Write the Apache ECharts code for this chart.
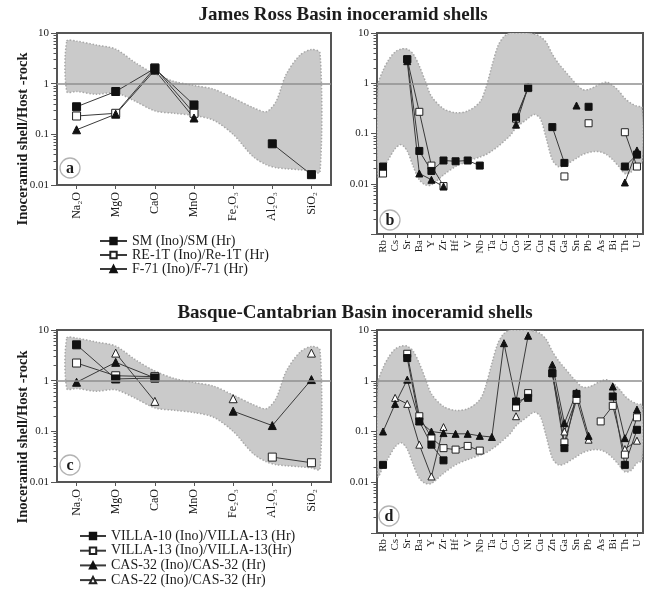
<!DOCTYPE html>
<html>
<head>
<meta charset="utf-8">
<script src="https://cdn.jsdelivr.net/npm/echarts@6/dist/echarts.min.js"></script>
<style>
  html, body { margin: 0; padding: 0; background: #fff; }
  #chart { width: 650px; height: 606px; }
</style>
</head>
<body>
<div id="chart"></div>
<script>
// ---- categories and tick labels ----
const oxides = ['Na₂O', 'MgO', 'CaO', 'MnO', 'Fe₂O₃', 'Al₂O₃', 'SiO₂'];
const traceElements = ['Rb', 'Cs', 'Sr', 'Ba', 'Y', 'Zr', 'Hf', 'V', 'Nb', 'Ta', 'Cr', 'Co', 'Ni',
  'Cu', 'Zn', 'Ga', 'Sn', 'Pb', 'As', 'Bi', 'Th', 'U'];
const yTickLabels = ['0.01', '0.1', '1', '10'];

// ---- James Ross Basin: major oxides (a) ----
const smOx   = [0.35, 0.70, 2.0, 0.38, null, 0.065, 0.016];
const re1tOx = [0.23, 0.26, 2.05, 0.26, null, null, null];
const f71Ox  = [0.123, 0.25, 1.85, 0.21, null, null, null];

// ---- James Ross Basin: trace elements (b) ----
const smTr   = [0.022, null, 3.0, 0.045, 0.018, 0.029, 0.028, 0.029, 0.023, null, null, 0.21, 0.82,
  null, 0.134, 0.026, null, 0.34, null, null, 0.022, 0.038];
const re1tTr = [0.016, null, 3.0, 0.27, 0.023, 0.009, null, null, null, null, null, 0.197, 0.80,
  null, null, 0.014, null, 0.16, null, null, 0.106, 0.022];
const f71Tr  = [null, null, 2.75, 0.016, 0.012, 0.0088, null, null, null, null, null, 0.15, 0.85,
  null, null, null, 0.36, null, null, null, 0.0106, 0.046];

// ---- Basque-Cantabrian Basin: major oxides (c) ----
const villa10Ox = [5.1, 1.08, 1.13, null, null, null, null];
const villa13Ox = [2.23, 1.25, 1.2, null, null, 0.031, 0.024];
const cas32Ox   = [0.93, 2.3, 1.13, null, 0.25, 0.13, 1.05];
const cas22Ox   = [null, 3.5, 0.39, null, 0.44, null, 3.5];

// ---- Basque-Cantabrian Basin: trace elements (d) ----
const villa10Tr = [0.022, null, 2.8, 0.158, 0.055, 0.027, null, null, null, null, null, 0.39, 0.46,
  null, 1.4, 0.047, 0.55, null, null, 0.49, 0.022, 0.108];
const villa13Tr = [null, null, 3.4, 0.2, 0.075, 0.047, 0.044, 0.052, 0.042, null, null, 0.30, 0.57,
  null, 1.42, 0.061, 0.42, null, 0.158, 0.32, 0.035, 0.19];
const cas32Tr   = [0.1, 0.35, 1.05, 0.16, 0.1, 0.093, 0.09, 0.09, 0.082, 0.078, 5.5, 0.4, 7.7,
  null, 2.07, 0.146, 0.59, 0.082, null, 0.77, 0.074, 0.27];
const cas22Tr   = [null, 0.46, 0.35, 0.055, 0.013, 0.122, null, null, null, null, null, 0.2, null,
  null, 1.42, 0.1, 0.45, 0.069, null, null, 0.045, 0.066];

// ---- shaded reference envelopes (x in category units) ----
const oxEnvX     = [-0.25, 0, 0.5, 1, 1.5, 2, 2.5, 3, 3.5, 4, 4.5, 4.85, 5.1, 5.35, 5.7, 6, 6.22];
const oxEnvUpper = [6.9, 6.9, 5.8, 4.8, 2.6, 1.55, 1.1, 0.92, 0.78, 0.52, 0.34, 0.28, 0.45, 1.5, 3.6, 4.7, 4.0];
const oxEnvLower = [0.70, 0.70, 0.62, 0.66, 0.45, 0.29, 0.26, 0.235, 0.19, 0.10, 0.037, 0.025, 0.022,
  0.021, 0.020, 0.019, 0.018];

const trEnvX     = [-0.42, 0, 0.5, 1, 1.5, 2, 2.5, 3, 3.5, 4, 5, 6, 7, 8, 8.5, 9, 9.5, 10, 10.5, 11,
  12, 12.5, 13, 13.5, 14, 14.5, 15, 15.5, 16, 16.5, 17, 17.5, 18, 18.5, 19, 19.5, 20, 20.5, 21, 21.42];
const trEnvUpper = [0.9, 1.8, 3.0, 4.2, 4.8, 4.8, 3.8, 2.2, 1.1, 0.55, 0.31, 0.26, 0.28, 0.42, 0.8, 2.2,
  5.5, 8.5, 10, 10, 10, 9.5, 8.5, 6.5, 3.8, 2.5, 1.8, 1.3, 0.95, 0.75, 0.75, 0.85, 0.98, 1.05, 0.9,
  0.7, 0.5, 0.4, 0.35, 0.33];
const trEnvLower = [0.013, 0.02, 0.032, 0.05, 0.06, 0.045, 0.022, 0.012, 0.0095, 0.0095, 0.015, 0.022,
  0.028, 0.034, 0.038, 0.045, 0.055, 0.07, 0.09, 0.13, 0.2, 0.24, 0.2, 0.08, 0.03, 0.022, 0.023, 0.027,
  0.032, 0.038, 0.042, 0.044, 0.043, 0.038, 0.03, 0.022, 0.016, 0.017, 0.024, 0.027];

// ---- styling ----
const SERIF = '"Liberation Serif", "Times New Roman", "DejaVu Serif", serif';
const INK = '#1c1c1c';
const FRAME = '#555';
const LINE = '#3a3a3a';

const grids = [
  { left: 57,  top: 33,  width: 274, height: 152 },   // a
  { left: 377, top: 33,  width: 266, height: 201 },   // b
  { left: 57,  top: 330, width: 274, height: 152 },   // c
  { left: 377, top: 330, width: 266, height: 203 }    // d
];
const yMins = [0.01, 0.001, 0.01, 0.001];

const marks = {
  filledSquare:   { symbol: 'rect',     itemStyle: { color: '#111', borderColor: '#111', borderWidth: 1 } },
  openSquare:     { symbol: 'rect',     itemStyle: { color: '#fff', borderColor: '#222', borderWidth: 1 } },
  filledTriangle: { symbol: 'triangle', itemStyle: { color: '#111', borderColor: '#111', borderWidth: 1 } },
  openTriangle:   { symbol: 'triangle', itemStyle: { color: '#fff', borderColor: '#222', borderWidth: 1 } }
};

function categoryAxis(gi, cats, fontSize, margin) {
  return {
    type: 'category', gridIndex: gi, data: cats, boundaryGap: true,
    axisLine: { show: true, onZero: false, lineStyle: { color: FRAME, width: 2 } },
    axisTick: { show: true, alignWithLabel: true, length: 4, lineStyle: { color: FRAME } },
    axisLabel: { rotate: 90, interval: 0, fontFamily: SERIF, fontSize: fontSize, color: INK, margin: margin },
    splitLine: { show: false }
  };
}
function envelopeAxis(gi, n) {
  return { type: 'value', gridIndex: gi, min: -0.5, max: n - 0.5, show: false };
}
function logAxis(gi) {
  return {
    type: 'log', gridIndex: gi, logBase: 10, min: yMins[gi], max: 10,
    axisLine: { show: true, onZero: false, lineStyle: { color: FRAME, width: 2 } },
    axisTick: { show: true, length: 6, lineStyle: { color: FRAME, width: 1 } },
    axisLabel: {
      fontFamily: SERIF, fontSize: 11, color: INK, margin: 8,
      formatter: function (v) {
        const e = Math.round(Math.log10(v));
        return e >= -2 ? yTickLabels[e + 2] : '';
      }
    },
    splitLine: { show: false }
  };
}

// minor ticks at 2..9 of every decade, on a companion log axis sharing the same grid
const logMinorTicks = [];
for (let e = -3; e < 1; e++) for (let m = 2; m < 10; m++) logMinorTicks.push(m * Math.pow(10, e));

function minorTickAxis(gi) {
  return {
    type: 'log', gridIndex: gi, logBase: 10, min: yMins[gi], max: 10, position: 'left', offset: 0,
    axisLine: { show: false, onZero: false },
    axisLabel: { show: false },
    splitLine: { show: false },
    axisTick: { show: true, length: 3.5, lineStyle: { color: FRAME, width: 1 },
      customValues: logMinorTicks.filter(v => v > yMins[gi] && v < 10) }
  };
}

// grey envelope: one smoothed polygon between the upper and lower bounds, dotted outline
function envelopeSeries(gi, xs, lower, upper) {
  return [
    {
      type: 'custom', xAxisIndex: gi * 2 + 1, yAxisIndex: gi, silent: true, z: 1, clip: true,
      data: [[0, 1]],
      renderItem: function (params, api) {
        const up = xs.map((x, i) => api.coord([x, upper[i]]));
        const lo = xs.map((x, i) => api.coord([x, lower[i]]));
        return {
          type: 'polygon',
          shape: { points: up.concat(lo.slice().reverse()), smooth: 0.3 },
          style: { fill: '#cacaca', stroke: '#a8a8a8', lineWidth: 1.5, lineDash: [1.5, 1.8] }
        };
      }
    },
    {
      type: 'line', xAxisIndex: gi * 2, yAxisIndex: gi, data: [], silent: true, z: 2,
      markLine: { silent: true, symbol: 'none', label: { show: false },
        lineStyle: { color: '#8f8f8f', width: 1.6, type: 'solid' }, data: [{ yAxis: 1 }] }
    }
  ];
}

function dataSeries(gi, name, values, mark, size) {
  return {
    type: 'line', name: name, xAxisIndex: gi * 2, yAxisIndex: gi, data: values,
    connectNulls: false, showSymbol: true, showAllSymbol: true,
    symbol: mark.symbol, symbolSize: size, itemStyle: mark.itemStyle,
    lineStyle: { color: LINE, width: 1 }, z: 4, silent: true
  };
}

function panelLetter(cx, cy, letter) {
  return [
    { type: 'circle', z: 100, shape: { cx: cx, cy: cy, r: 10 },
      style: { fill: '#fff', stroke: '#b3b3b3', lineWidth: 1.3 } },
    { type: 'text', z: 101, x: cx, y: cy + 0.5,
      style: { text: letter, font: 'bold 16px ' + SERIF, fill: INK, align: 'center', verticalAlign: 'middle' } }
  ];
}

const nameSM = 'SM (Ino)/SM (Hr)';
const nameRE = 'RE-1T (Ino)/Re-1T (Hr)';
const nameF71 = 'F-71 (Ino)/F-71 (Hr)';
const nameV10 = 'VILLA-10 (Ino)/VILLA-13 (Hr)';
const nameV13 = 'VILLA-13 (Ino)/VILLA-13(Hr)';
const nameC32 = 'CAS-32 (Ino)/CAS-32 (Hr)';
const nameC22 = 'CAS-22 (Ino)/CAS-32 (Hr)';

const series = [].concat(
  envelopeSeries(0, oxEnvX, oxEnvLower, oxEnvUpper),
  envelopeSeries(1, trEnvX, trEnvLower, trEnvUpper),
  envelopeSeries(2, oxEnvX, oxEnvLower, oxEnvUpper),
  envelopeSeries(3, trEnvX, trEnvLower, trEnvUpper),
  [
    dataSeries(0, nameRE, re1tOx, marks.openSquare, 8),
    dataSeries(0, nameF71, f71Ox, marks.filledTriangle, 8),
    dataSeries(0, nameSM, smOx, marks.filledSquare, 8),

    dataSeries(1, nameRE, re1tTr, marks.openSquare, 7),
    dataSeries(1, nameF71, f71Tr, marks.filledTriangle, 7),
    dataSeries(1, nameSM, smTr, marks.filledSquare, 7),

    dataSeries(2, nameC22, cas22Ox, marks.openTriangle, 8),
    dataSeries(2, nameV13, villa13Ox, marks.openSquare, 8),
    dataSeries(2, nameC32, cas32Ox, marks.filledTriangle, 8),
    dataSeries(2, nameV10, villa10Ox, marks.filledSquare, 8),

    dataSeries(3, nameC22, cas22Tr, marks.openTriangle, 7),
    dataSeries(3, nameV13, villa13Tr, marks.openSquare, 7),
    dataSeries(3, nameV10, villa10Tr, marks.filledSquare, 7),
    dataSeries(3, nameC32, cas32Tr, marks.filledTriangle, 7)
  ]
);

const legendText = { fontFamily: SERIF, fontSize: 14, color: INK, lineHeight: 14 };

const option = {
  animation: false,
  backgroundColor: '#fff',
  grid: grids.map(g => Object.assign({ show: true, borderColor: FRAME, borderWidth: 2,
    backgroundColor: 'transparent', containLabel: false }, g)),
  xAxis: [
    categoryAxis(0, oxides, 12, 7), envelopeAxis(0, oxides.length),
    categoryAxis(1, traceElements, 11, 6), envelopeAxis(1, traceElements.length),
    categoryAxis(2, oxides, 12, 7), envelopeAxis(2, oxides.length),
    categoryAxis(3, traceElements, 11, 6), envelopeAxis(3, traceElements.length)
  ],
  yAxis: [logAxis(0), logAxis(1), logAxis(2), logAxis(3),
    minorTickAxis(0), minorTickAxis(1), minorTickAxis(2), minorTickAxis(3)],
  legend: [
    { orient: 'vertical', left: 99, top: 234, padding: 0, itemGap: 0, itemWidth: 27, itemHeight: 8,
      selectedMode: false, textStyle: legendText, data: [nameSM, nameRE, nameF71] },
    { orient: 'vertical', left: 79, top: 529, padding: 0, itemGap: 0.7, itemWidth: 26, itemHeight: 8,
      selectedMode: false, textStyle: legendText, data: [nameV10, nameV13, nameC32, nameC22] }
  ],
  graphic: [].concat(
    [
      { type: 'text', z: 100, x: 343, y: 15,
        style: { text: 'James Ross Basin inoceramid shells', font: 'bold 19px ' + SERIF,
          fill: INK, align: 'center', verticalAlign: 'middle' } },
      { type: 'text', z: 100, x: 355, y: 313,
        style: { text: 'Basque-Cantabrian Basin inoceramid shells', font: 'bold 19px ' + SERIF,
          fill: INK, align: 'center', verticalAlign: 'middle' } },
      { type: 'text', z: 100, x: 23, y: 139, rotation: Math.PI / 2,
        style: { text: 'Inoceramid shell/Host -rock', font: 'bold 14.5px ' + SERIF,
          fill: INK, align: 'center', verticalAlign: 'middle' } },
      { type: 'text', z: 100, x: 23, y: 437, rotation: Math.PI / 2,
        style: { text: 'Inoceramid shell/Host -rock', font: 'bold 14.5px ' + SERIF,
          fill: INK, align: 'center', verticalAlign: 'middle' } }
    ],
    panelLetter(70, 168, 'a'),
    panelLetter(390, 220, 'b'),
    panelLetter(70, 465, 'c'),
    panelLetter(389, 516, 'd')
  ),
  series: series
};

const chart = echarts.init(document.getElementById('chart'), null, { renderer: 'canvas' });
chart.setOption(option);
</script>
</body>
</html>
